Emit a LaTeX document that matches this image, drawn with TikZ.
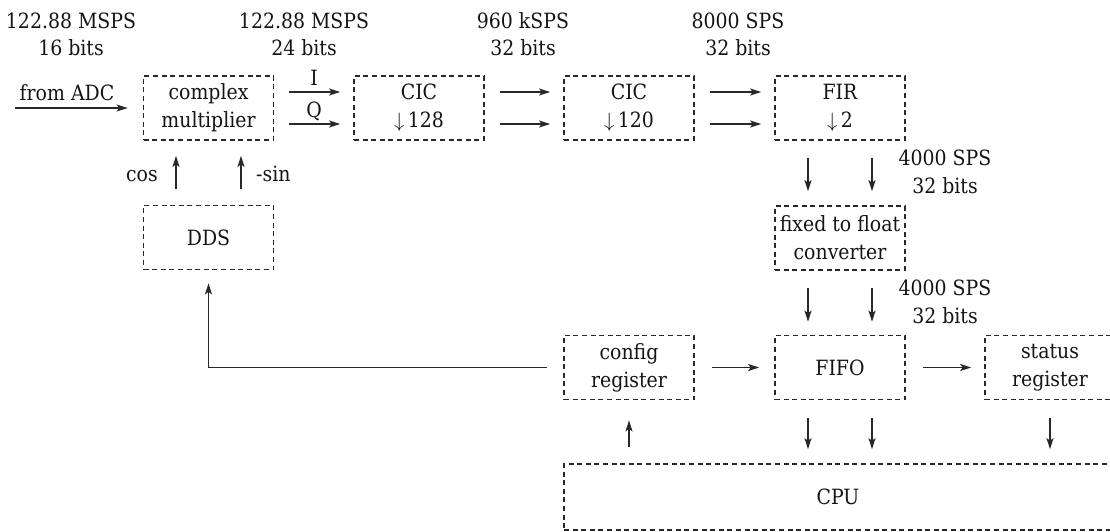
\documentclass[tikz,border=0pt]{standalone}
\usepackage{fontspec}
\setmainfont{DejaVu Serif Condensed}
\usetikzlibrary{arrows.meta}
\definecolor{ink}{RGB}{20,20,20}
\definecolor{edge}{RGB}{40,40,40}

\begin{document}
\begin{tikzpicture}[x=1pt,y=-1pt,
  block/.style={draw=edge,line width=1.7pt,dash pattern=on 5pt off 3.6pt,
    minimum width=130pt,minimum height=64pt,align=center,inner sep=0pt,
    font=\fontsize{21}{28}\selectfont,text=ink},
  flow/.style={draw=edge,line width=1.6pt,
    -{Stealth[length=11pt,width=7pt,inset=2.5pt]}},
  tag/.style={font=\fontsize{21}{24}\selectfont,text=ink,inner sep=0pt,anchor=base}]

\clip (0,0) rectangle (1110,531);

% processing blocks
\node[block] (cm)    at (208.5,108)   {complex\\multiplier};
\node[block] (cic1)  at (419,108)     {CIC\\$\downarrow$\,128};
\node[block] (cic2)  at (629,108)     {CIC\\$\downarrow$\,120};
\node[block] (fir)   at (840,108)     {FIR\\$\downarrow$\,2};
\node[block] (dds)   at (208.5,237.5) {DDS};
\node[block] (conv)  at (840,238)     {fixed to float\\converter};
\node[block] (cfg)   at (629,367.5)   {config\\register};
\node[block] (fifo)  at (840,367.5)   {FIFO};
\node[block] (stat)  at (1050,367.5)  {status\\register};
\node[block,minimum width=548pt,minimum height=66pt] (cpu) at (838,497) {CPU};

% input from the ADC
\coordinate (adc) at (15,108);
\draw[flow] (adc) -- ([xshift=-15pt]cm.west);
\node[tag] (adclbl) at (67,100) {from ADC};

% I/Q pairs along the decimation chain
\foreach \a/\b in {cm/cic1,cic1/cic2,cic2/fir}{
  \draw[flow] ([xshift=15pt,yshift=16pt]\a.east) -- ([xshift=-13pt,yshift=16pt]\b.west);
  \draw[flow] ([xshift=15pt,yshift=-16pt]\a.east) -- ([xshift=-13pt,yshift=-16pt]\b.west);
}
\node[tag] (ilbl) at (314,85) {I};
\node[tag] (qlbl) at (314,117) {Q};

% sample rates and word widths
\node[tag] (r0) at (71,28)  {122.88 MSPS};
\node[tag] (w0) at (71,55)  {16 bits};
\node[tag] (r1) at (304,28) {122.88 MSPS};
\node[tag] (w1) at (304,55) {24 bits};
\node[tag] (r2) at (523,28) {960 kSPS};
\node[tag] (w2) at (523,55) {32 bits};
\node[tag] (r3) at (738,28) {8000 SPS};
\node[tag] (w3) at (738,55) {32 bits};
\node[tag] (r4) at (945,165) {4000 SPS};
\node[tag] (w4) at (945,193) {32 bits};
\node[tag] (r5) at (945,295) {4000 SPS};
\node[tag] (w5) at (945,323) {32 bits};

% oscillator outputs
\draw[flow] ([xshift=-32.5pt,yshift=16pt]dds.north) -- ([xshift=-32.5pt,yshift=-15pt]cm.south);
\draw[flow] ([xshift=32.5pt,yshift=16pt]dds.north) -- ([xshift=32.5pt,yshift=-15pt]cm.south);
\node[tag,anchor=base east] (coslbl) at (158,181) {cos};
\node[tag,anchor=base west] (sinlbl) at (256,181) {-sin};

% FIR -> converter -> FIFO -> CPU
\foreach \dx in {-32,32}{
  \draw[flow] ([xshift=\dx pt,yshift=-17pt]fir.south) -- ([xshift=\dx pt,yshift=14pt]conv.north);
  \draw[flow] ([xshift=\dx pt,yshift=-17pt]conv.south) -- ([xshift=\dx pt,yshift=13pt]fifo.north);
  \draw[flow] ([xshift=\dx pt,yshift=-18pt]fifo.south) -- ([xshift=\dx pt,yshift=14pt]cpu.north -| fifo.south);
}
\draw[flow] ([yshift=-18pt]stat.south) -- ([yshift=14pt]cpu.north -| stat.south);
\draw[flow] ([yshift=16pt]cpu.north -| cfg.south) -- ([yshift=-20pt]cfg.south);

% register paths
\draw[flow] ([xshift=17pt]cfg.east) -- ([xshift=-15pt]fifo.west);
\draw[flow] ([xshift=17pt]fifo.east) -- ([xshift=-13pt]stat.west);
\draw[flow] ([xshift=-16pt]cfg.west) -| ([yshift=-13pt]dds.south);
\end{tikzpicture}
\end{document}
